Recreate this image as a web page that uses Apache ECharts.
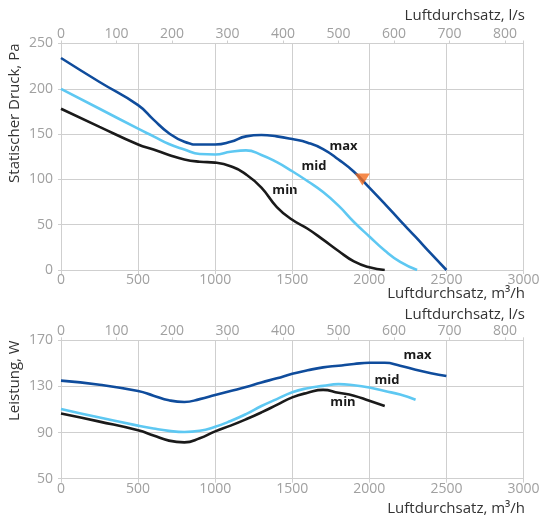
<!DOCTYPE html>
<html><head><meta charset="utf-8">
<script src="https://cdn.jsdelivr.net/npm/echarts@6/dist/echarts.min.js"></script>
<style>html,body{margin:0;padding:0;background:#fff}#c{width:544px;height:519px}</style>
</head><body><div id="c"></div>
<script>
// ---- Data (flow in m³/h) ----
const pressMaxX = [0,250,500,600,700,800,900,1000,1100,1200,1300,1400,1500,1600,1700,1800,1900,2000,2100,2200,2300,2400,2500];
const pressMaxY = [234,207.5,182,166,151,141.5,138.5,138.5,141.5,147.5,149,147.5,144.5,140.5,133.5,122,108.5,91,73,54.5,36.5,18,0];
const pressMidX = [0,250,500,600,700,800,900,1000,1100,1200,1300,1400,1500,1600,1700,1800,1900,2000,2100,2200,2310];
const pressMidY = [200,178,156,147.5,139,133,128,127.5,130.5,132,127,119,109,98,86,71,53,37,21.5,9,0];
const pressMinX = [0,250,500,600,700,800,900,1000,1100,1200,1300,1400,1500,1600,1700,1800,1900,2000,2100];
const pressMinY = [178,158,138.5,133,127,122,119.5,118.5,114.5,105.5,91,69.5,55.5,45.5,33.5,21,9.5,3,0];
const operatingPoint = [1955, 100];

const powMaxX = [0,250,500,600,700,800,900,1000,1100,1200,1300,1400,1500,1600,1700,1800,1900,2000,2100,2200,2300,2400,2500];
const powMaxY = [135,131.5,126,122,118,116.5,119,122.5,126,129.5,133.5,137,141,144,146.5,148,149.5,150.5,150.5,148,144.5,141.5,139];
const powMidX = [0,250,500,600,700,800,900,1000,1100,1200,1300,1400,1500,1600,1700,1800,1900,2000,2100,2200,2300];
const powMidY = [110.5,103,96,93.5,91.5,90.5,91.5,95,100,106,113,119,125,128.5,130.5,132,131,129,126,123,118.5];
const powMinX = [0,250,500,600,700,800,900,1000,1100,1200,1300,1400,1500,1600,1700,1800,1900,2000,2100];
const powMinY = [106.5,99.5,92,87.5,83,81.5,85,91,96,101.5,107.5,114,120.5,124.5,127,124.5,122,117.5,113];

const seriesNames = ['max','mid','min'];
const axisNameFlowM3h = 'Luftdurchsatz, m³/h';
const axisNameFlowLs = 'Luftdurchsatz, l/s';
const axisNamePressure = 'Statischer Druck, Pa';
const axisNamePower = 'Leistung, W';

// ---- Styling ----
const FONT = 'Open Sans';
const gridColor = '#cfcfcf';
const labelColor = '#a0a0a0';
const nameColor = '#333333';
const cMax = '#0f4c9c', cMid = '#5ec8f2', cMin = '#1a1a1a';
const zip = (xs, ys) => xs.map((x, i) => [x, ys[i]]);

const xBottom = (g) => ({
  gridIndex: g, type: 'value', position: 'bottom', min: 0, max: 3000, interval: 500,
  axisLine: {show: true, onZero: false, lineStyle: {color: gridColor}},
  axisTick: {show: true, length: 4, lineStyle: {color: gridColor}},
  axisLabel: {color: labelColor, fontSize: 14, fontFamily: FONT, margin: 3, formatter: v => String(v)},
  splitLine: {show: true, lineStyle: {color: gridColor}}
});
const xTop = (g) => ({
  gridIndex: g, type: 'value', position: 'top', min: 0, max: 3000 / 3.6, interval: 100,
  axisLine: {show: true, onZero: false, lineStyle: {color: gridColor}},
  axisTick: {show: true, length: 3, lineStyle: {color: gridColor}},
  axisLabel: {color: labelColor, fontSize: 14, fontFamily: FONT, margin: 2,
    formatter: v => (Math.abs(v % 100) < 1e-6 ? String(v) : '')},
  splitLine: {show: false}
});
const yAx = (g, min, max, interval) => ({
  gridIndex: g, type: 'value', min, max, interval,
  axisLine: {show: true, lineStyle: {color: gridColor}},
  axisTick: {show: true, length: 3, lineStyle: {color: gridColor}},
  axisLabel: {color: labelColor, fontSize: 14, fontFamily: FONT, margin: 8, formatter: v => String(v)},
  splitLine: {show: true, lineStyle: {color: gridColor}}
});
const line = (name, data, color, g) => ({
  name, type: 'line', xAxisIndex: g * 2, yAxisIndex: g, data, smooth: 0.5,
  showSymbol: false, symbol: 'none', lineStyle: {width: 2.6, color}, itemStyle: {color}, z: 3
});
const txt = (text, x, y, rotation) => {
  const o = {
    type: 'text', x, y, silent: true,
    style: {text, fill: nameColor, font: '15px "' + FONT + '"', textAlign: 'right', textVerticalAlign: 'middle'}
  };
  if (rotation !== undefined) o.rotation = rotation;
  return o;
};
const curveLabel = (text, x, y) => ({
  type: 'text', x, y, silent: true,
  style: {text, fill: '#1a1a1a', font: 'bold 13px "' + FONT + '"', textAlign: 'center', textVerticalAlign: 'middle'}
});

const chart = echarts.init(document.getElementById('c'), null, {renderer: 'canvas'});
chart.setOption({
  animation: false,
  backgroundColor: '#ffffff',
  grid: [
    {left: 61, right: 20.5, top: 43.5, height: 226.5},
    {left: 61, right: 20.5, top: 340.3, height: 138.4}
  ],
  xAxis: [xBottom(0), xTop(0), xBottom(1), xTop(1)],
  yAxis: [yAx(0, 0, 250, 50), yAx(1, 50, 170, 40)],
  series: [
    line(seriesNames[2], zip(pressMinX, pressMinY), cMin, 0),
    line(seriesNames[1], zip(pressMidX, pressMidY), cMid, 0),
    line(seriesNames[0], zip(pressMaxX, pressMaxY), cMax, 0),
    {type: 'scatter', xAxisIndex: 0, yAxisIndex: 0, data: [operatingPoint], symbol: 'triangle',
     symbolRotate: 180, symbolSize: [15, 12], itemStyle: {color: '#f26b1d'}, z: 5, silent: true},
    line(seriesNames[2], zip(powMinX, powMinY), cMin, 1),
    line(seriesNames[1], zip(powMidX, powMidY), cMid, 1),
    line(seriesNames[0], zip(powMaxX, powMaxY), cMax, 1)
  ],
  graphic: [
    txt(axisNameFlowLs, 525, 16),
    txt(axisNameFlowM3h, 525, 294),
    txt(axisNameFlowLs, 525, 315),
    txt(axisNameFlowM3h, 525, 509),
    txt(axisNamePressure, 15, 43.5, Math.PI / 2),
    txt(axisNamePower, 15, 340.3, Math.PI / 2),
    curveLabel(seriesNames[0], 343.5, 146.5),
    curveLabel(seriesNames[1], 314, 166),
    curveLabel(seriesNames[2], 285, 190.5),
    curveLabel(seriesNames[0], 417.5, 355.5),
    curveLabel(seriesNames[1], 387, 380),
    curveLabel(seriesNames[2], 343, 402)
  ]
});
</script></body></html>
